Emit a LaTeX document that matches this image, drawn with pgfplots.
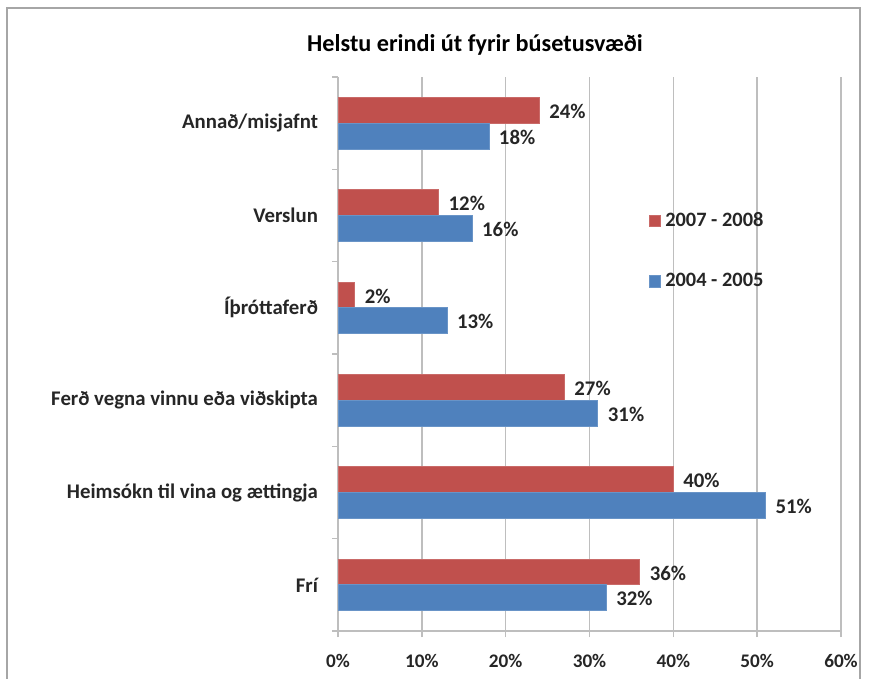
\documentclass[border=0pt]{standalone}
\usepackage{pgfplots}
\pgfplotsset{compat=1.18}
\usepackage{fontspec}
\setmainfont{Carlito}
\definecolor{cred}{HTML}{C0504D}
\definecolor{cblue}{HTML}{4F81BD}
\definecolor{gridc}{HTML}{BEBEBE}
\begin{document}
\begin{tikzpicture}
\clip (0,0) rectangle (436pt,-339.5pt);
\fill[white] (0,0) rectangle (436pt,-339.5pt);
\draw[gray!70, line width=0.8pt] (3.5pt,-4pt) rectangle (430pt,-345pt);
\node[font=\bfseries\fontsize{12.1}{14}\selectfont] at (237.5pt,-22.5pt) {Helstu erindi út fyrir búsetusvæði};
\begin{axis}[
  at={(169pt,-315.5pt)}, anchor=south west,
  scale only axis, width=251.5pt, height=277pt,
  xbar, bar width=12.9pt,
  xmin=0, xmax=60, ymin=-0.5, ymax=5.5,
  xtick={0,10,...,60},
  xticklabel={\pgfmathprintnumber{\tick}\%},
  ytick={0,1,2,3,4,5},
  yticklabels={Frí,Heimsókn til vina og ættingja,Ferð vegna vinnu eða viðskipta,Íþróttaferð,Verslun,Annað/misjafnt},
  minor ytick={-0.5,0.5,...,5.5},
  axis x line*=bottom, axis y line*=left,
  axis line style={gridc, line width=0.8pt},
  tick align=outside,
  major tick length=3pt, minor tick length=3pt,
  major y tick style={draw=none},
  minor y tick style={gridc, line width=0.8pt},
  major x tick style={gridc, line width=0.8pt},
  xmajorgrids, major grid style={gridc, line width=0.8pt},
  /pgf/number format/assume math mode=true,
  tick label style={font=\bfseries\fontsize{9.6}{11}\selectfont, text=black!85},
  xticklabel style={yshift=-5pt},
  yticklabel style={xshift=-3.5pt, font=\bfseries\fontsize{10.4}{12}\selectfont},
  nodes near coords={\pgfmathprintnumber{\pgfplotspointmeta}\%},
  nodes near coords style={font=\bfseries\fontsize{10.4}{12}\selectfont, text=black!85, xshift=1.5pt, yshift=-0.5pt},
  legend style={draw=none, fill=none, at={(rel axis cs:0.618,0.764)}, anchor=north west,
    font=\bfseries\fontsize{10.2}{12}\selectfont, text=black!85, row sep=18pt,
    inner sep=0pt, legend cell align=left},
  legend image code/.code={\fill[#1] (0pt,-2.8pt) rectangle (5.6pt,2.8pt);},
]
\addplot[fill=cred, draw=cred!85!white, bar shift=6.45pt] coordinates {(36,0) (40,1) (27,2) (2,3) (12,4) (24,5)};
\addlegendentry{2007 - 2008}
\addplot[fill=cblue, draw=cblue!85!white, bar shift=-6.45pt] coordinates {(32,0) (51,1) (31,2) (13,3) (16,4) (18,5)};
\addlegendentry{2004 - 2005}
\end{axis}
\end{tikzpicture}
\end{document}
